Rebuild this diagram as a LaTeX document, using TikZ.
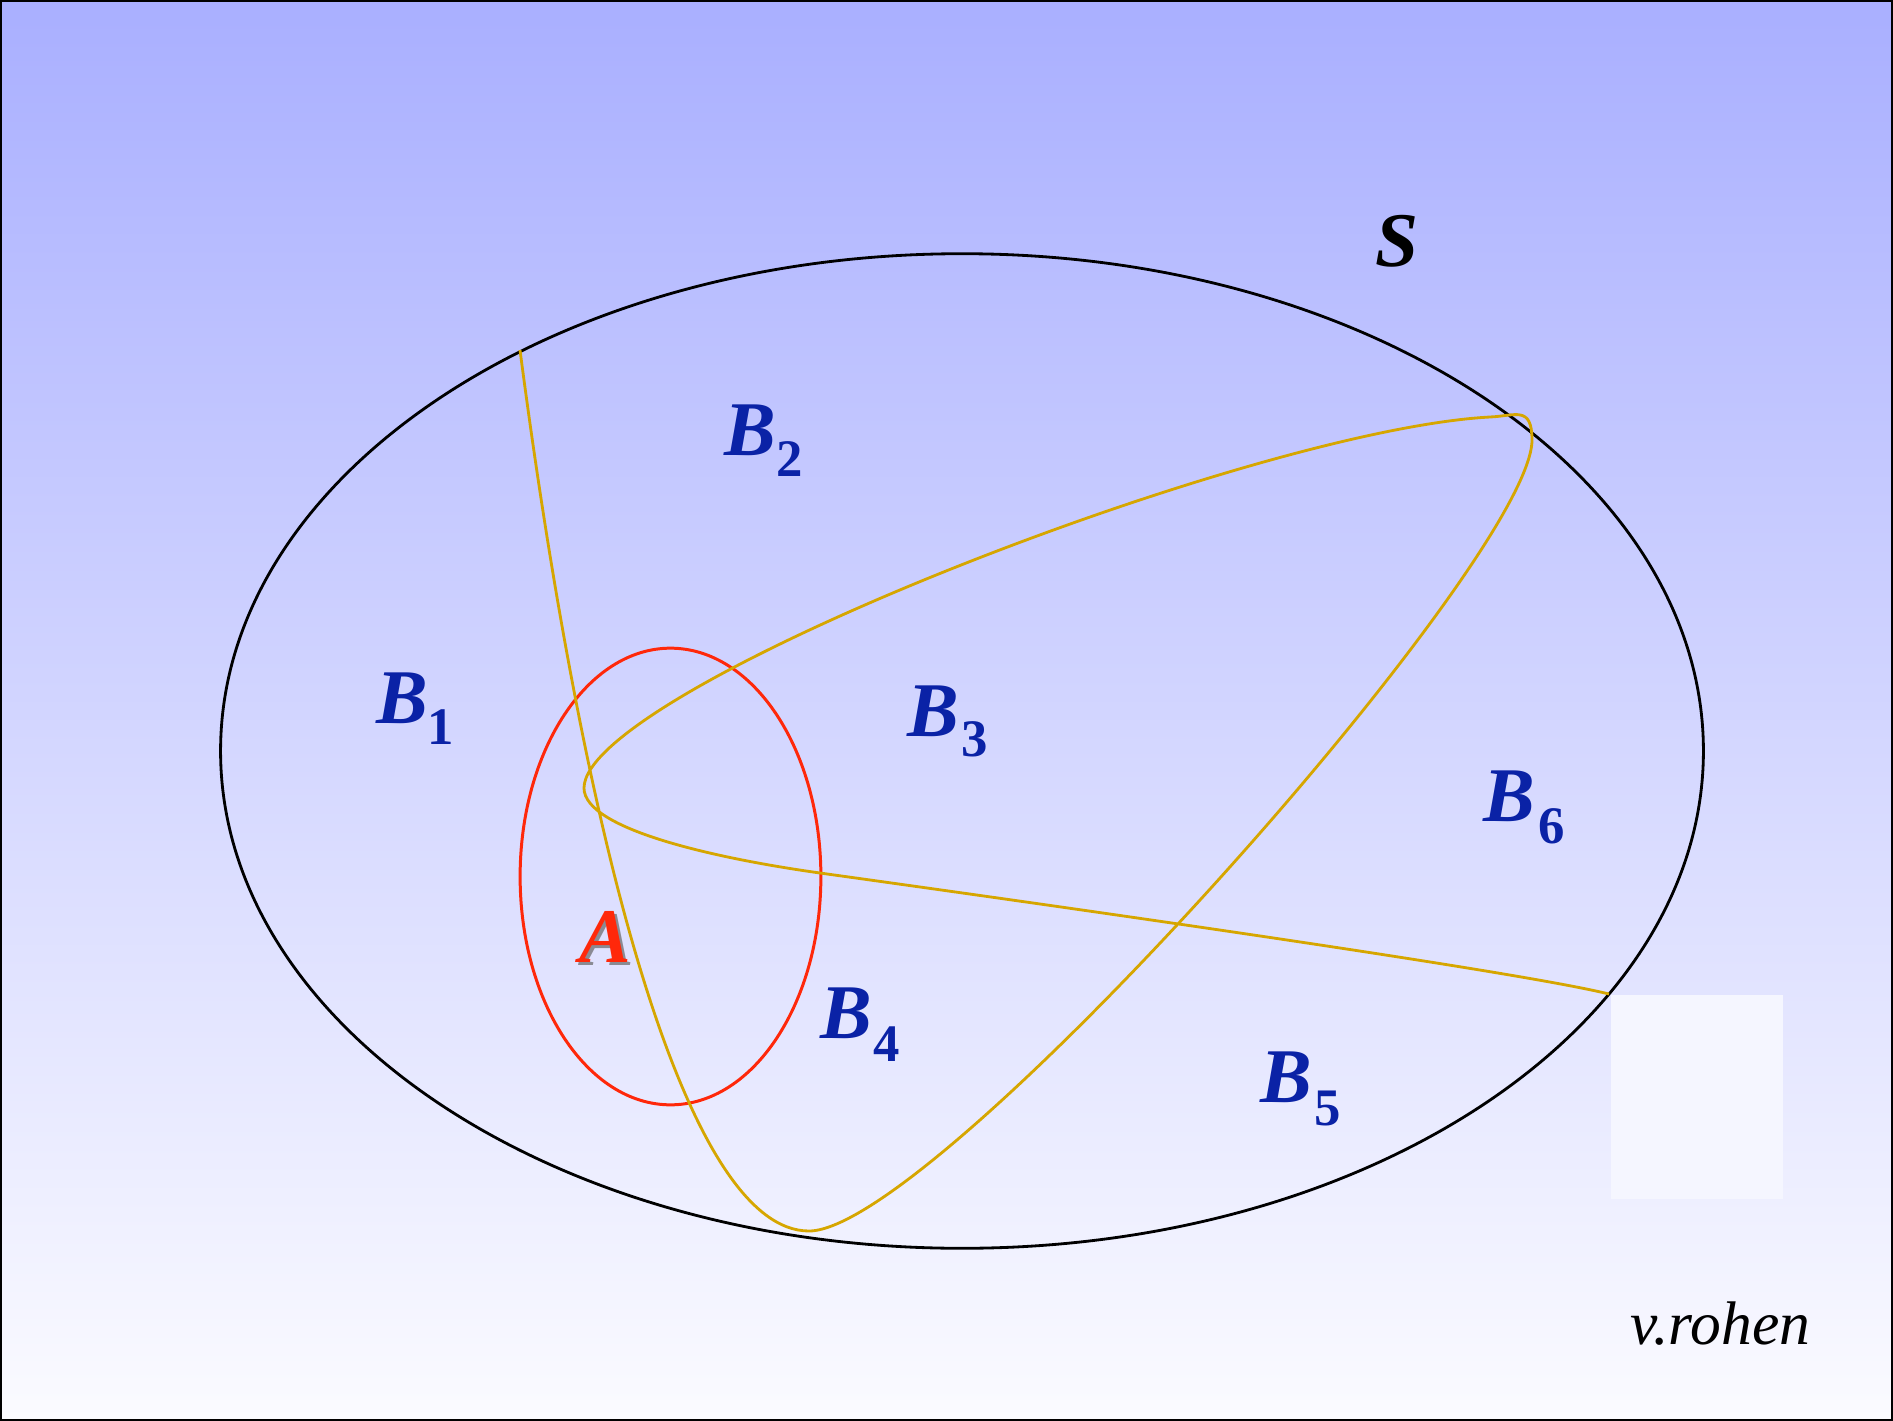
\documentclass[tikz,border=0pt]{standalone}
\usepackage{fontspec}
\setmainfont{Liberation Serif}
\begin{document}
\begin{tikzpicture}[x=0.01cm,y=-0.01cm,
  lbl/.style={font=\fontsize{22}{24}\selectfont\bfseries\itshape, text=labblue, inner sep=0pt},
  sub/.style={font=\fontsize{15}{16}\selectfont\bfseries, text=labblue, inner sep=0pt},
  gold/.style={draw=goldc, line width=0.8pt}]
\definecolor{labblue}{RGB}{10,34,166}
\definecolor{goldc}{RGB}{214,166,0}
\definecolor{redc}{RGB}{255,40,10}
\definecolor{topc}{RGB}{169,175,255}
\definecolor{botc}{RGB}{251,251,255}
\definecolor{sqc}{RGB}{245,246,255}
\useasboundingbox (0,0) rectangle (1893,1421);
\shade[top color=topc, bottom color=botc] (0,0) rectangle (1893,1421);
\fill[sqc] (1611,995) rectangle (1783,1199);
\draw[line width=0.8pt] (962,751) ellipse [x radius=7.41cm, y radius=4.97cm];
\draw[draw=redc, line width=0.85pt] (670.5,876.5) ellipse [x radius=1.503cm, y radius=2.282cm];
\coordinate (g0) at (520,350);
\coordinate (g1) at (809,1231);
\coordinate (g2) at (1532,440);
\coordinate (g3) at (1490,417);
\coordinate (g4) at (584,788);
\coordinate (g5) at (820,873);
\coordinate (g6) at (1609,994);
\draw[gold] (g0) .. controls (588,870) and (690,1231) .. (g1)
  .. controls (935,1231) and (1532,560) .. (g2)
  .. controls (1532,405) and (1515,416) .. (g3)
  .. controls (1250,430) and (584,690) .. (g4)
  .. controls (584,830) and (720,859) .. (g5)
  .. controls (1100,912) and (1520,972) .. (g6);
\node[lbl] (b1) at (402,698) {B};
\node[sub] (s1) at (441,727) {1};
\node[lbl] (b2) at (750,430) {B};
\node[sub] (s2) at (790,459) {2};
\node[lbl] (b3) at (933,711) {B};
\node[sub] (s3) at (975,739) {3};
\node[lbl] (b4) at (846,1013) {B};
\node[sub] (s4) at (887,1044) {4};
\node[lbl] (b5) at (1286,1077) {B};
\node[sub] (s5) at (1328,1108) {5};
\node[lbl] (b6) at (1509,796) {B};
\node[sub] (s6) at (1552,826) {6};
\node[lbl, text=black] (s) at (1397,241) {S};
\node[lbl, text=black!60, opacity=0.7] (ashadow) at (608,940) {A};
\node[lbl, text=redc] (a) at (605,937) {A};
\node[font=\fontsize{17.5}{18}\selectfont\itshape, anchor=base west, inner sep=0pt] (sig) at (1630,1344) {v.rohen};
\draw[line width=0.6pt] (0.5,0.5) rectangle (1892.5,1420.5);
\end{tikzpicture}
\end{document}
